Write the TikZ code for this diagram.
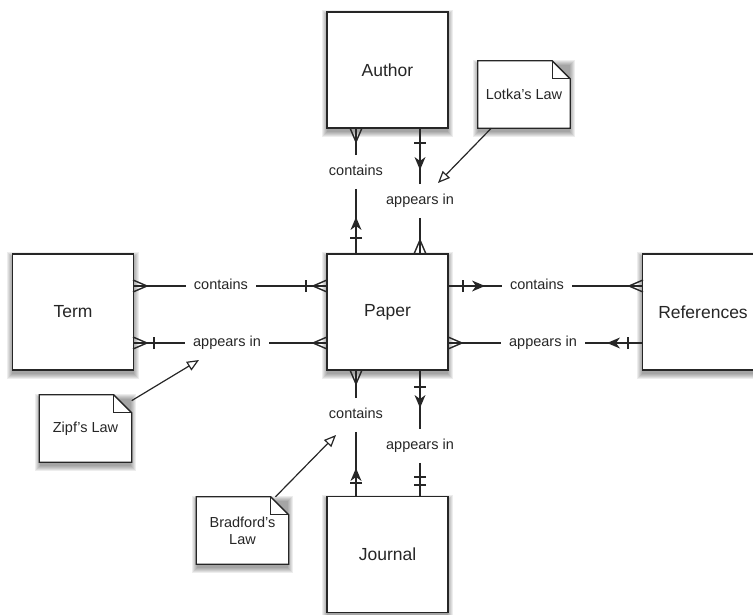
\documentclass[tikz,border=0pt]{standalone}
\usepackage{fontspec}
\setmainfont{Liberation Sans}
\usetikzlibrary{arrows.meta,calc,backgrounds}
\begin{document}
\begin{tikzpicture}[x=1pt,y=-1pt,
  entity/.style={draw=black!85, line width=1.8pt, fill=white, minimum width=121pt, minimum height=116pt, inner sep=0pt,
    text=black!85, font=\fontsize{17.5}{20}\selectfont},
  lbl/.style={text=black!85, font=\fontsize{14.5}{17}\selectfont, text height=10.5pt, text depth=3pt, inner xsep=8pt, inner ysep=10pt},
  notetext/.style={text=black!85, font=\fontsize{14.5}{17}\selectfont, minimum width=92pt, minimum height=67pt, inner sep=0pt, align=center},
  notebox/.style={fill=white, draw=black!85, line width=1.3pt, line join=miter},
  notefold/.style={draw=black!85, line width=1.1pt},
  shadowstep/.style={fill=black, opacity=0.07},
  conn/.style={draw=black!85, line width=1.4pt},
  notearrow/.style={draw=black!85, line width=1.2pt, -{Triangle[open, length=12pt, width=10pt, line width=1.2pt]}},
  crow/.pic={\draw[conn] (0pt,0pt) -- (14pt,6pt) (0pt,0pt) -- (14pt,-6pt);},
  onebar/.pic={\draw[conn] (0pt,-6pt) -- (0pt,6pt);},
  arrowhead/.pic={\fill[black!85] (0pt,0pt) -- (-13pt,5.5pt) -- (-9pt,0pt) -- (-13pt,-5.5pt) -- cycle;}
]
\useasboundingbox (0,0) rectangle (753,615);

% entities
\node[entity] (author) at (387.5,70) {Author};
\node[entity] (paper) at (387.5,312) {Paper};
\node[entity] (term) at (73,312) {Term};
\node[entity] (references) at (703,312) {References};
\node[entity] (journal) at (387.5,554.5) {Journal};

% Author - Paper
\node[lbl] (c1) at (356,172) {contains};
\draw[conn] (c1.north) -- (c1.north |- author.south);
\draw[conn] (c1.south) -- (c1.south |- paper.north);
\pic[rotate=90] at (356,142) {crow};
\pic[rotate=90] at (356,217) {arrowhead};
\pic[rotate=90] at (356,238) {onebar};

\node[lbl] (a1) at (420,201) {appears in};
\draw[conn] (a1.north) -- (a1.north |- author.south);
\draw[conn] (a1.south) -- (a1.south |- paper.north);
\pic[rotate=-90] at (420,143) {onebar};
\pic[rotate=-90] at (420,170) {arrowhead};
\pic[rotate=-90] at (420,240) {crow};

% Term - Paper
\node[lbl] (c2) at (221,286) {contains};
\draw[conn] (c2.west) -- (c2.west -| term.east);
\draw[conn] (c2.east) -- (c2.east -| paper.west);
\pic[rotate=180] at (147,286) {crow};
\pic at (306,286) {onebar};
\pic at (313,286) {crow};

\node[lbl] (a2) at (227,343) {appears in};
\draw[conn] (a2.west) -- (a2.west -| term.east);
\draw[conn] (a2.east) -- (a2.east -| paper.west);
\pic[rotate=180] at (147,343) {crow};
\pic at (154,343) {onebar};
\pic at (313,343) {crow};

% Paper - References
\node[lbl] (c3) at (537,286) {contains};
\draw[conn] (c3.west) -- (c3.west -| paper.east);
\draw[conn] (c3.east) -- (c3.east -| references.west);
\pic at (463,286) {onebar};
\pic at (485,286) {arrowhead};
\pic at (629,286) {crow};

\node[lbl] (a3) at (543,343) {appears in};
\draw[conn] (a3.west) -- (a3.west -| paper.east);
\draw[conn] (a3.east) -- (a3.east -| references.west);
\pic[rotate=180] at (462,343) {crow};
\pic[rotate=180] at (607,343) {arrowhead};
\pic at (628,343) {onebar};

% Paper - Journal
\node[lbl] (c4) at (356,415) {contains};
\draw[conn] (c4.north) -- (c4.north |- paper.south);
\draw[conn] (c4.south) -- (c4.south |- journal.north);
\pic[rotate=90] at (356,384) {crow};
\pic[rotate=90] at (356,468) {arrowhead};
\pic[rotate=90] at (356,483) {onebar};

\node[lbl] (a4) at (420,446) {appears in};
\draw[conn] (a4.north) -- (a4.north |- paper.south);
\draw[conn] (a4.south) -- (a4.south |- journal.north);
\pic[rotate=-90] at (420,387) {onebar};
\pic[rotate=-90] at (420,408) {arrowhead};
\pic[rotate=90] at (420,477) {onebar};
\pic[rotate=90] at (420,485) {onebar};

% notes
\node[notetext] (lotka) at (524,94.5) {Lotka's Law};
\node[notetext] (zipf) at (85.5,428.5) {Zipf's Law};
\node[notetext] (bradford) at (242.5,530.5) {Bradford's\\Law};

\begin{scope}[on background layer]
% soft drop shadows
\foreach \n in {author,paper,term,references,journal,lotka,zipf,bradford}{
  \foreach \k in {0,1,2,3,4,5}{
    \fill[shadowstep] ($(\n.north west)+(-\k+0.5,4-\k)$) rectangle ($(\n.south east)+(\k-0.5,3.5+\k)$);
  }
}
\foreach \n in {lotka,zipf,bradford}{
  \filldraw[notebox] (\n.north west) -- ($(\n.north east)+(-18,0)$) -- ($(\n.north east)+(0,18)$) -- (\n.south east) -- (\n.south west) -- cycle;
  \draw[notefold] ($(\n.north east)+(-18,0)$) -- ($(\n.north east)+(-18,18)$) -- ($(\n.north east)+(0,18)$);
}
\end{scope}

\coordinate (lotkatip) at (438,183);
\coordinate (zipftip) at (199,360);
\coordinate (bradtip) at (336,435);
\draw[notearrow] (lotka) -- (lotkatip);
\draw[notearrow] (zipf) -- (zipftip);
\draw[notearrow] (bradford) -- (bradtip);
\end{tikzpicture}
\end{document}
